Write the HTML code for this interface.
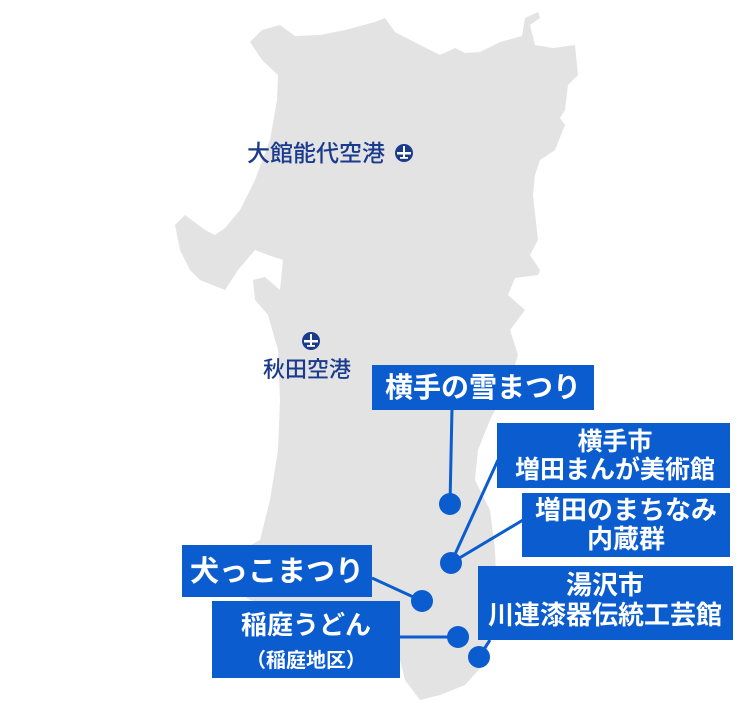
<!DOCTYPE html>
<html><head><meta charset="utf-8"><style>
body{margin:0;background:#fff;}
svg{display:block}
text{font-family:"Liberation Sans","Noto Sans CJK JP",sans-serif;font-weight:bold}
</style></head><body>
<svg width="750" height="710" viewBox="0 0 750 710">
<polygon fill="#e3e3e3" points="250,42 262,30 280,25 295,36 320,35 345,30 375,22 385,18 395,32 420,45 440,55 455,48 465,53 480,52 500,42 522,36 525,18 538,12 540,18 530,25 535,45 553,48 575,45 578,75 568,85 565,110 560,118 565,125 555,150 540,160 535,175 533,195 538,240 530,255 540,270 538,275 515,278 508,295 525,310 510,330 518,355 510,380 490,420 478,450 475,480 490,510 495,550 497,600 490,640 483,665 465,685 440,695 420,700 405,680 400,660 395,640 370,625 300,615 250,600 235,590 233,555 260,540 270,500 278,450 280,400 278,350 268,315 255,300 253,280 265,277 280,290 283,260 268,255 255,250 238,270 225,290 200,280 190,270 180,250 175,225 185,215 205,230 215,235 225,228 240,210 255,180 270,140 277,100 278,75 262,60"/>
<g fill="#1a3a8c">
<text x="247" y="161" font-size="23" style="font-weight:500">大館能代空港</text>
<circle cx="404" cy="153" r="9"/>
<circle cx="311" cy="341" r="9"/>
<text x="263" y="377" font-size="22" style="font-weight:500">秋田空港</text>
</g>
<g fill="#fff">
<rect x="403" y="146" width="2" height="12"/><rect x="397" y="152" width="14" height="2.5"/><rect x="400" y="157" width="8" height="1.8"/>
<rect x="310" y="334" width="2" height="12"/><rect x="304" y="340" width="14" height="2.5"/><rect x="307" y="345" width="8" height="1.8"/>
</g>
<g stroke="#0a5ccf" stroke-width="3" fill="none">
<line x1="452" y1="408" x2="450" y2="504"/>
<line x1="498" y1="460" x2="451" y2="563"/>
<line x1="523" y1="520" x2="451" y2="563"/>
<line x1="372" y1="578" x2="422" y2="601"/>
<line x1="400" y1="637" x2="458" y2="637"/>
<line x1="490" y1="640" x2="479" y2="657"/>
</g>
<g fill="#0a5ccf">
<circle cx="450" cy="504" r="11"/><circle cx="451" cy="563" r="11"/><circle cx="422" cy="601" r="11"/><circle cx="458" cy="637" r="11"/><circle cx="479" cy="657" r="11"/>
<rect x="372" y="365" width="222" height="45"/>
<rect x="497" y="423" width="233" height="65"/>
<rect x="522" y="493" width="208" height="64"/>
<rect x="182" y="545" width="190" height="52"/>
<rect x="478" y="566" width="255" height="74"/>
<rect x="212" y="601" width="188" height="77"/>
</g>
<g fill="#fff" text-anchor="middle">
<text x="483" y="397" font-size="28">横手の雪まつり</text>
<text x="615" y="450" font-size="25">横手市</text>
<text x="615" y="478" font-size="25">増田まんが美術館</text>
<text x="626" y="519" font-size="26">増田のまちなみ</text>
<text x="626" y="548" font-size="26">内蔵群</text>
<text x="277" y="581" font-size="29">犬っこまつり</text>
<text x="605" y="594" font-size="26">湯沢市</text>
<text x="605" y="624" font-size="26">川連漆器伝統工芸館</text>
<text x="306" y="634" font-size="26">稲庭うどん</text>
<text x="306" y="667" font-size="20">（稲庭地区）</text>
</g>
</svg>
</body></html>
